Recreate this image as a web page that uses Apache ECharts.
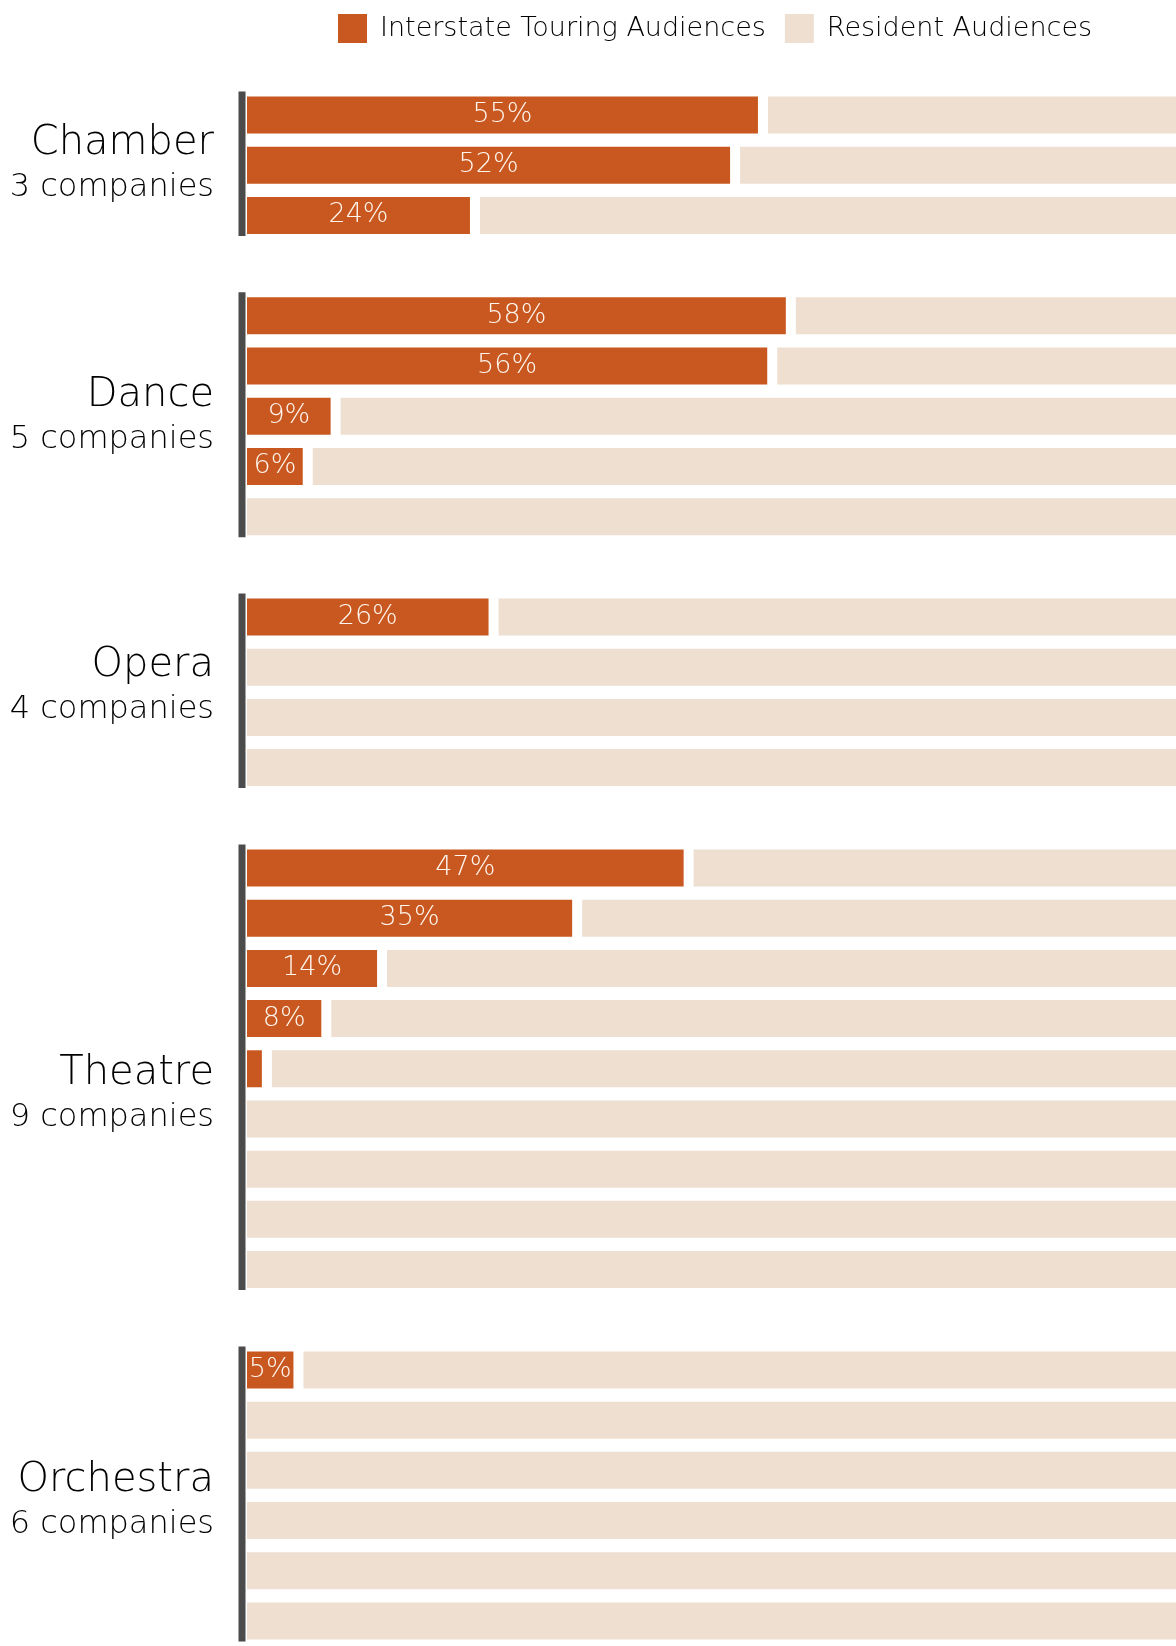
<!DOCTYPE html>
<html>
<head>
<meta charset="utf-8">
<title>Interstate Touring vs Resident Audiences</title>
<script src="https://cdn.jsdelivr.net/npm/echarts@6/dist/echarts.min.js"></script>
<style>
  html, body { margin: 0; padding: 0; background: #ffffff; }
  #chart { width: 1176px; height: 1646px; }
</style>
</head>
<body>
<div id="chart"></div>
<script>
// ---- data ----
const seriesNames = ['Interstate Touring Audiences', 'Resident Audiences'];
const groupNames = ['Chamber', 'Dance', 'Opera', 'Theatre', 'Orchestra'];
// share of audiences from interstate touring, one value per company (%)
const chamberTouring   = [55, 52, 24];
const danceTouring     = [58, 56, 9, 6, 0];
const operaTouring     = [26, 0, 0, 0];
const theatreTouring   = [47, 35, 14, 8, 1.6, 0, 0, 0, 0];
const orchestraTouring = [5, 0, 0, 0, 0, 0];

// ---- styling ----
const TOURING_COLOR = '#c8581f';
const RESIDENT_COLOR = '#eedfd1';
const AXIS_COLOR = '#4b4b4b';
const FONT = '"DejaVu Sans", "Noto Sans", sans-serif';
const BAR_H = 37;          // bar thickness in px
const BAR_GAP = 10;        // white gap between touring and resident segments
const LABEL_SHIFT = [-4, -3, -9, 23, 3]; // vertical nudge of each group caption

// ---- build rows: one row per company, a blank row between groups ----
const groupValues = [chamberTouring, danceTouring, operaTouring, theatreTouring, orchestraTouring];
const rowCats = [];
const touringData = [];
const residentData = [];
const groupSpans = [];
groupValues.forEach((vals, g) => {
  if (g > 0) { rowCats.push(''); touringData.push('-'); }
  const first = rowCats.length;
  vals.forEach((v, i) => {
    rowCats.push(groupNames[g] + ' ' + (i + 1));
    touringData.push(v);
    residentData.push([rowCats.length - 1, v, 100 - v]);
  });
  groupSpans.push([first, rowCats.length - 1, g]);
});

function renderResident(params, api) {
  const row = api.value(0);
  const start = api.value(1);
  const len = api.value(2);
  const p0 = api.coord([start, row]);
  const p1 = api.coord([start + len, row]);
  const gap = start > 0 ? BAR_GAP : 0;
  return {
    type: 'rect',
    shape: { x: p0[0] + gap, y: p0[1] - BAR_H / 2, width: p1[0] - p0[0] - gap, height: BAR_H },
    style: { fill: RESIDENT_COLOR }
  };
}

function renderGroup(params, api) {
  const first = api.value(0);
  const last = api.value(1);
  const g = api.value(2);
  const top = api.coord([0, first]);
  const bot = api.coord([0, last]);
  const x = top[0] - 5;
  const mid = (top[1] + bot[1]) / 2 + LABEL_SHIFT[g];
  const labelX = top[0] - 33;
  const count = groupValues[g].length + ' companies';
  return {
    type: 'group',
    children: [
      {
        type: 'line',
        shape: { x1: x, y1: top[1] - BAR_H / 2 - 5, x2: x, y2: bot[1] + BAR_H / 2 + 2 },
        style: { stroke: AXIS_COLOR, lineWidth: 7 }
      },
      {
        type: 'text',
        style: {
          text: groupNames[g], x: labelX, y: mid - 18,
          align: 'right', verticalAlign: 'middle',
          font: '200 40px ' + FONT, fill: '#000000'
        }
      },
      {
        type: 'text',
        style: {
          text: count, x: labelX, y: mid + 26,
          align: 'right', verticalAlign: 'middle',
          font: '200 32px ' + FONT, fill: '#000000'
        }
      }
    ]
  };
}

const chart = echarts.init(document.getElementById('chart'), null, { renderer: 'canvas' });
chart.setOption({
  animation: false,
  backgroundColor: '#ffffff',
  legend: {
    data: seriesNames,
    left: 333,
    top: 9,
    icon: 'rect',
    itemWidth: 29,
    itemHeight: 29,
    itemGap: 19,
    selectedMode: false,
    textStyle: {
      fontFamily: FONT,
      fontWeight: 200,
      fontSize: 27,
      color: '#000000',
      padding: [0, 0, 0, 8]
    }
  },
  grid: { left: 247, right: 0, top: 90, bottom: 0, containLabel: false },
  xAxis: {
    type: 'value', min: 0, max: 100,
    show: false
  },
  yAxis: {
    type: 'category',
    data: rowCats,
    inverse: true,
    axisLine: { show: false },
    axisTick: { show: false },
    axisLabel: { show: false },
    splitLine: { show: false }
  },
  series: [
    {
      name: seriesNames[0],
      type: 'bar',
      data: touringData,
      barWidth: BAR_H,
      itemStyle: { color: TOURING_COLOR },
      label: {
        show: true,
        position: 'inside',
        color: '#fff6ef',
        fontFamily: FONT,
        fontWeight: 200,
        fontSize: 27,
        formatter: (p) => (p.value >= 3 ? p.value + '%' : '')
      },
      z: 3
    },
    {
      name: seriesNames[1],
      type: 'custom',
      renderItem: renderResident,
      data: residentData,
      encode: { x: [1, 2], y: 0 },
      itemStyle: { color: RESIDENT_COLOR },
      z: 2
    },
    {
      name: 'groups',
      type: 'custom',
      renderItem: renderGroup,
      data: groupSpans,
      encode: { y: [0, 1] },
      silent: true,
      z: 4
    }
  ]
});
</script>
</body>
</html>
